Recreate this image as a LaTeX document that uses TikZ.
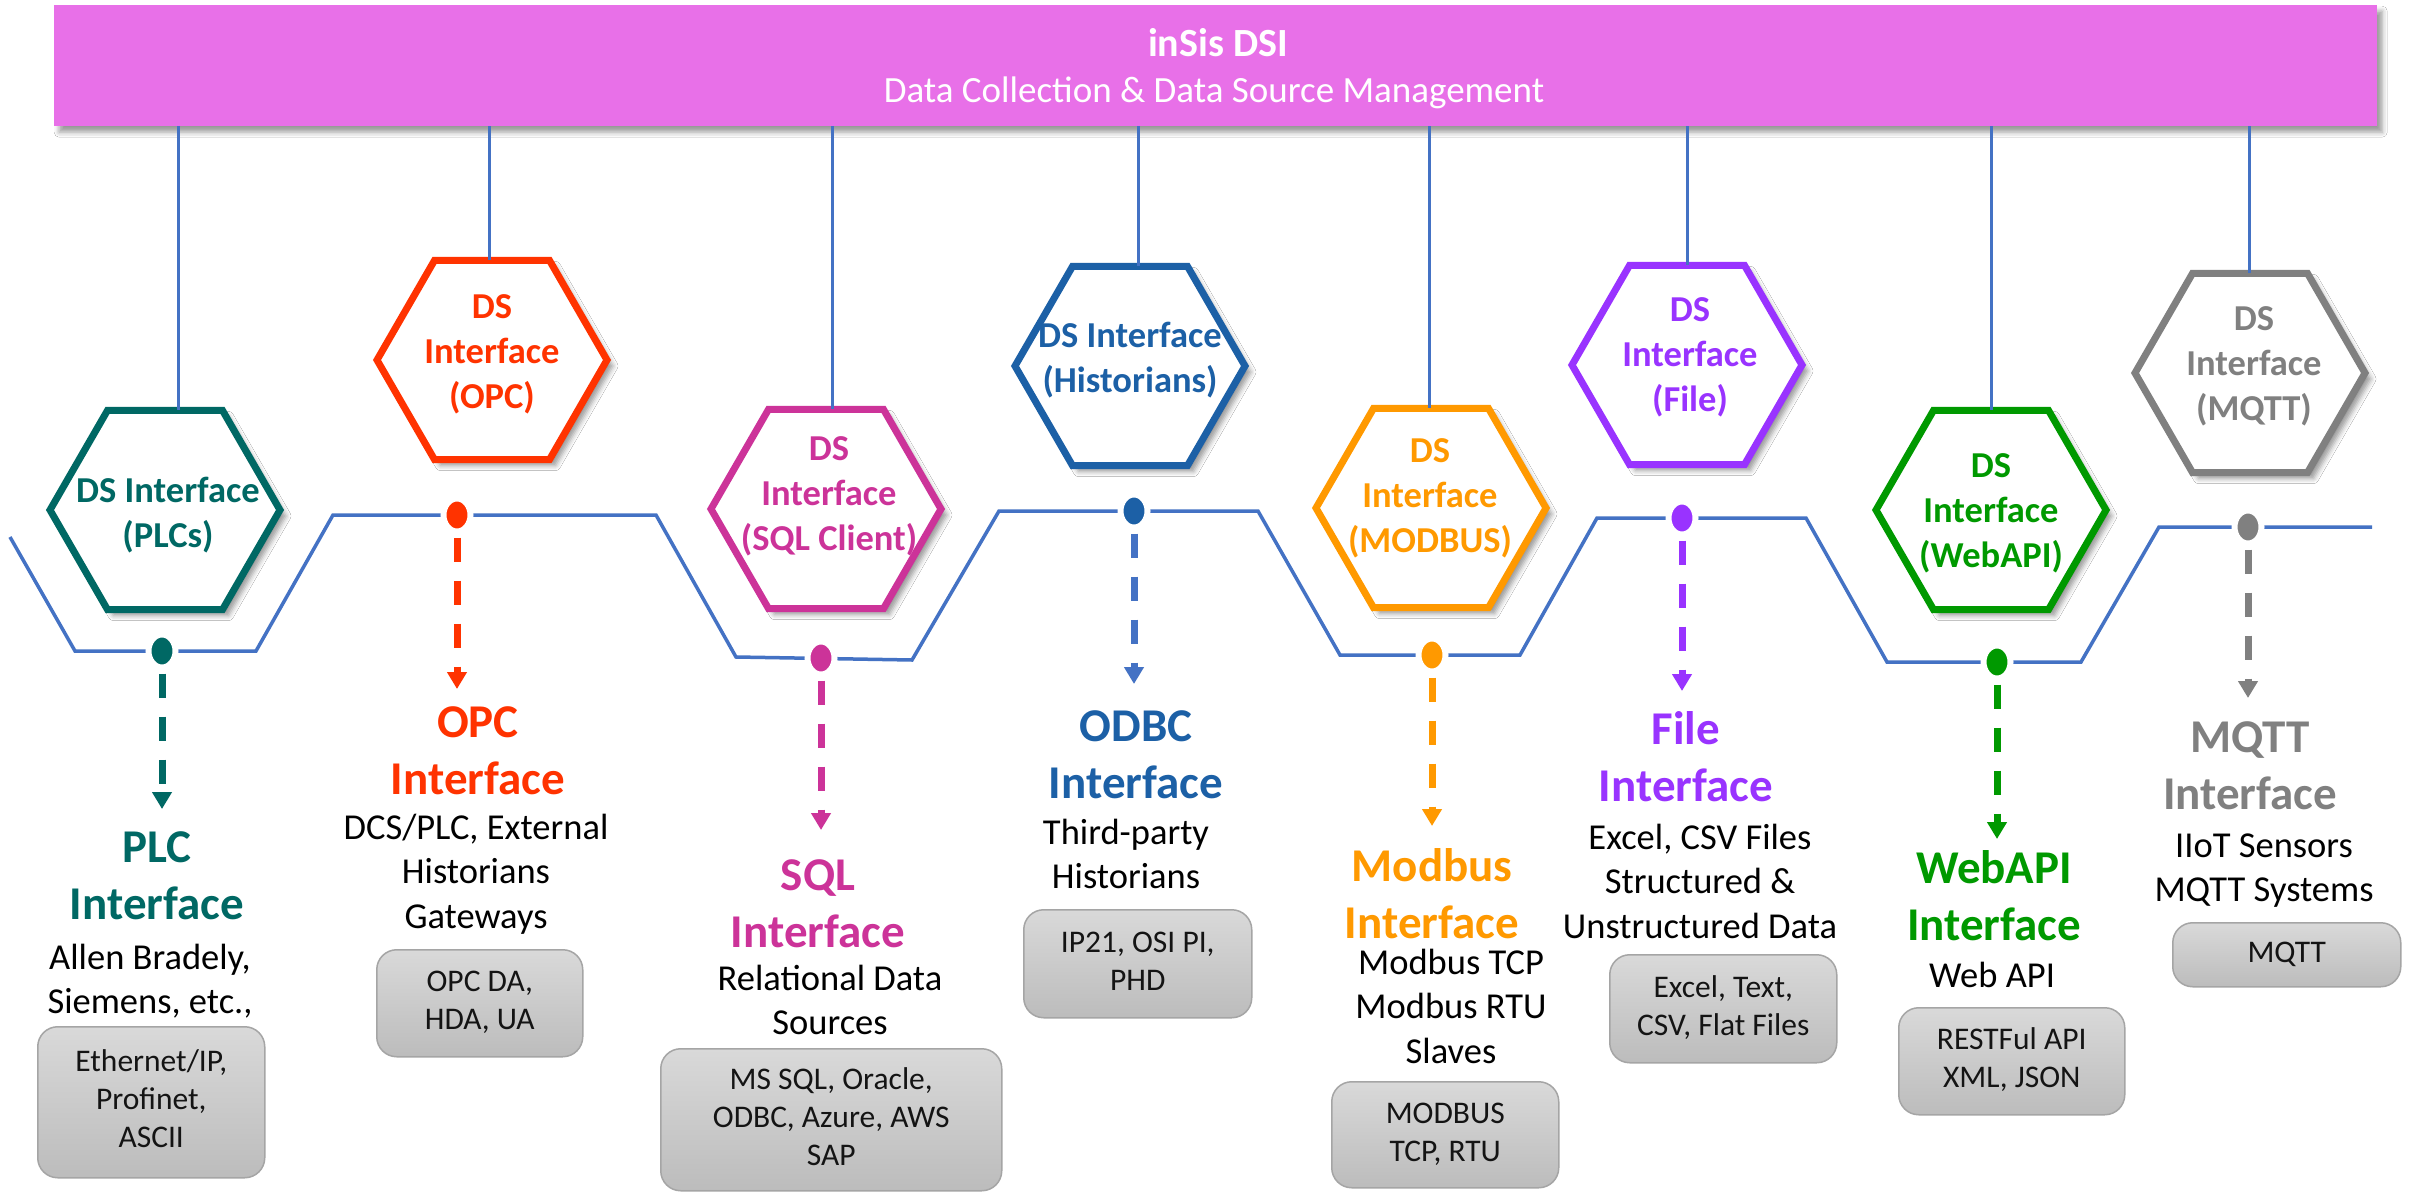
\documentclass[tikz,border=0pt]{standalone}
\usepackage{fontspec}
\setmainfont{Carlito}
\usetikzlibrary{shapes.geometric,arrows.meta,calc,shadows.blur}
\definecolor{plc}{RGB}{0,104,100}
\definecolor{opc}{RGB}{255,51,0}
\definecolor{sql}{RGB}{204,51,153}
\definecolor{odbc}{RGB}{28,96,166}
\definecolor{odbcarrow}{RGB}{68,114,196}
\definecolor{modbus}{RGB}{255,153,0}
\definecolor{file}{RGB}{153,51,255}
\definecolor{webapi}{RGB}{0,153,0}
\definecolor{mqtt}{RGB}{128,128,128}
\definecolor{barcol}{RGB}{232,112,232}
\definecolor{lineblue}{RGB}{68,114,196}
\definecolor{boxtop}{RGB}{217,217,217}
\definecolor{boxbot}{RGB}{188,188,188}
\definecolor{boxedge}{RGB}{165,165,165}
\definecolor{txtdark}{RGB}{20,20,20}
\newcommand{\ml}[1]{\begin{tabular}[t]{@{}c@{}}#1\end{tabular}}
\begin{document}
\begin{tikzpicture}[x=1pt,y=-1pt,
  hexa/.style={regular polygon, regular polygon sides=6, minimum size=230pt, inner sep=0pt,
    line width=7pt, fill=white, draw=#1,
    blur shadow={shadow xshift=6pt, shadow yshift=-6pt, shadow blur radius=5pt}},
  hext/.style={text=#1, font=\fontsize{36.5}{45}\selectfont\bfseries, inner sep=0pt, anchor=base},
  ttl/.style={text=#1, font=\fontsize{47}{57}\selectfont\bfseries, inner sep=0pt, anchor=base},
  desc/.style={text=black, font=\fontsize{36.5}{44.5}\selectfont, inner sep=0pt, anchor=base},
  gbox/.style={draw=boxedge, line width=1.5pt, rounded corners=20pt, top color=boxtop,
    bottom color=boxbot, anchor=north west, inner sep=0pt,
    font=\fontsize{31.5}{38}\selectfont, text=txtdark},
  dot/.style={ellipse, fill=#1, draw=white, line width=6pt, minimum width=27pt,
    minimum height=33pt, inner sep=0pt},
  arr/.style={draw=#1, line width=7pt, dash pattern=on 24pt off 19pt, shorten <=3pt,
    -{Triangle[width=19pt,length=17pt]}},
  conn/.style={draw=lineblue, line width=3pt},
  zig/.style={draw=lineblue, line width=3.5pt, line join=miter},
]
\fill[white] (0,0) rectangle (2412,1193);
\useasboundingbox (0,0) rectangle (2412,1193);

% top bar
\node[fill=barcol, minimum width=2323pt, minimum height=121pt, anchor=north west, inner sep=0pt,
  blur shadow={shadow xshift=5pt, shadow yshift=-6pt, shadow blur radius=5pt}] (bar) at (54,5) {};
\node[text=white, font=\fontsize{40}{48}\selectfont\bfseries, anchor=base, inner sep=0pt] (bart) at (1218,57) {inSis DSI};
\node[text=white, font=\fontsize{37}{44}\selectfont, anchor=base, inner sep=0pt] (bars) at (1214,103) {Data Collection \& Data Source Management};

% hexagons
\node[hexa=plc] (h1) at (165,510) {};
\node[hexa=opc] (h2) at (492,360) {};
\node[hexa=sql] (h3) at (826,509) {};
\node[hexa=odbc] (h4) at (1130,366) {};
\node[hexa=modbus] (h5) at (1431,508) {};
\node[hexa=file] (h6) at (1687,365) {};
\node[hexa=webapi] (h7) at (1991,510) {};
\node[hexa=mqtt] (h8) at (2250,373) {};

% connector ends on the hexagon tops
\coordinate (c1) at ($(h1)+(13,-100)$);
\coordinate (c2) at ($(h2)+(-3,-100)$);
\coordinate (c3) at ($(h3)+(6,-100)$);
\coordinate (c4) at ($(h4)+(8,-100)$);
\coordinate (c5) at ($(h5)+(-2,-100)$);
\coordinate (c6) at ($(h6)+(0,-100)$);
\coordinate (c7) at ($(h7)+(0,-100)$);
\coordinate (c8) at ($(h8)+(-1,-100)$);
\foreach \i in {1,...,8} {\draw[conn] (bar.south -| c\i) -- (c\i);}

% hexagon texts
\node[hext=plc] (ht1) at (168,502) {\ml{DS Interface\\(PLCs)}};
\node[hext=opc] (ht2) at (492,318) {\ml{DS\\Interface\\(OPC)}};
\node[hext=sql] (ht3) at (829,460) {\ml{DS\\Interface\\(SQL Client)}};
\node[hext=odbc] (ht4) at (1130,347) {\ml{DS Interface\\(Historians)}};
\node[hext=modbus] (ht5) at (1430,462) {\ml{DS\\Interface\\(MODBUS)}};
\node[hext=file] (ht6) at (1690,321) {\ml{DS\\Interface\\(File)}};
\node[hext=webapi] (ht7) at (1991,477) {\ml{DS\\Interface\\(WebAPI)}};
\node[hext=mqtt] (ht8) at (2254,330) {\ml{DS\\Interface\\(MQTT)}};

% zigzag bus line
\draw[zig] (10,537) -- (75,651) -- (256,651) -- (333,515) -- (656,515) -- (736,657)
  -- (912,660) -- (999,511) -- (1258,511) -- (1340,655) -- (1520,655) -- (1597,518)
  -- (1806,518) -- (1887,662) -- (2081,662) -- (2159,527) -- (2372,527);

% dots
\node[dot=plc] (d1) at (162,651) {};
\node[dot=opc] (d2) at (457,515) {};
\node[dot=sql] (d3) at (821,658) {};
\node[dot=odbc] (d4) at (1134,511) {};
\node[dot=modbus] (d5) at (1432,655) {};
\node[dot=file] (d6) at (1682,518) {};
\node[dot=webapi] (d7) at (1997,662) {};
\node[dot=mqtt] (d8) at (2248,527) {};

% arrow ends
\coordinate (a1) at (162,809);
\coordinate (a2) at (457,689);
\coordinate (a3) at (821,830);
\coordinate (a4) at (1134,684);
\coordinate (a5) at (1432,826);
\coordinate (a6) at (1682,691);
\coordinate (a7) at (1997,839);
\coordinate (a8) at (2248,698);
\draw[arr=plc] (d1.south) -- (a1);
\draw[arr=opc] (d2.south) -- (a2);
\draw[arr=sql] (d3.south) -- (a3);
\draw[arr=odbcarrow] (d4.south) -- (a4);
\draw[arr=modbus] (d5.south) -- (a5);
\draw[arr=file] (d6.south) -- (a6);
\draw[arr=webapi] (d7.south) -- (a7);
\draw[arr=mqtt] (d8.south) -- (a8);

% titles
\node[ttl=plc] (t1) at (157,862) {\ml{PLC\\Interface}};
\node[ttl=opc] (t2) at (478,737) {\ml{OPC\\Interface}};
\node[ttl=sql] (t3) at (818,890) {\ml{SQL\\Interface}};
\node[ttl=odbc] (t4) at (1136,741) {\ml{ODBC\\Interface}};
\node[ttl=modbus] (t5) at (1432,881) {\ml{Modbus\\Interface}};
\node[ttl=file] (t6) at (1686,744) {\ml{File\\Interface}};
\node[ttl=webapi] (t7) at (1994,883) {\ml{WebAPI\\Interface}};
\node[ttl=mqtt] (t8) at (2250,752) {\ml{MQTT\\Interface}};

% descriptions
\node[desc] (s1) at (150,969) {\ml{Allen Bradely,\\Siemens, etc.,}};
\node[desc] (s2) at (476,839) {\ml{DCS/PLC, External\\Historians\\Gateways}};
\node[desc] (s3) at (830,990) {\ml{Relational Data\\Sources}};
\node[desc] (s4) at (1126,844) {\ml{Third-party\\Historians}};
\node[desc] (s5) at (1451,974) {\ml{Modbus TCP\\Modbus RTU\\Slaves}};
\node[desc] (s6) at (1700,849) {\ml{Excel, CSV Files\\Structured \&\\Unstructured Data}};
\node[desc] (s7) at (1992,987) {\ml{Web API}};
\node[desc] (s8) at (2264,857) {\ml{IIoT Sensors\\MQTT Systems}};

% protocol boxes
\node[gbox, minimum width=227pt, minimum height=151pt] (b1) at (37,1026) {\ml{Ethernet/IP,\\Profinet,\\ASCII}};
\node[gbox, minimum width=206pt, minimum height=107pt] (b2) at (376,949) {\ml{OPC DA,\\HDA, UA}};
\node[gbox, minimum width=341pt, minimum height=142pt] (b3) at (660,1048) {\ml{MS SQL, Oracle,\\ODBC, Azure, AWS\\SAP}};
\node[gbox, minimum width=228pt, minimum height=108pt] (b4) at (1023,909) {\ml{IP21, OSI PI,\\PHD}};
\node[gbox, minimum width=227pt, minimum height=106pt] (b5) at (1331,1081) {\ml{MODBUS\\TCP, RTU}};
\node[gbox, minimum width=227pt, minimum height=108pt] (b6) at (1609,954) {\ml{Excel, Text,\\CSV, Flat Files}};
\node[gbox, minimum width=226pt, minimum height=107pt] (b7) at (1898,1007) {\ml{RESTFul API\\XML, JSON}};
\node[gbox, minimum width=228pt, minimum height=64pt] (b8) at (2172,922) {\ml{MQTT}};
\end{tikzpicture}
\end{document}
